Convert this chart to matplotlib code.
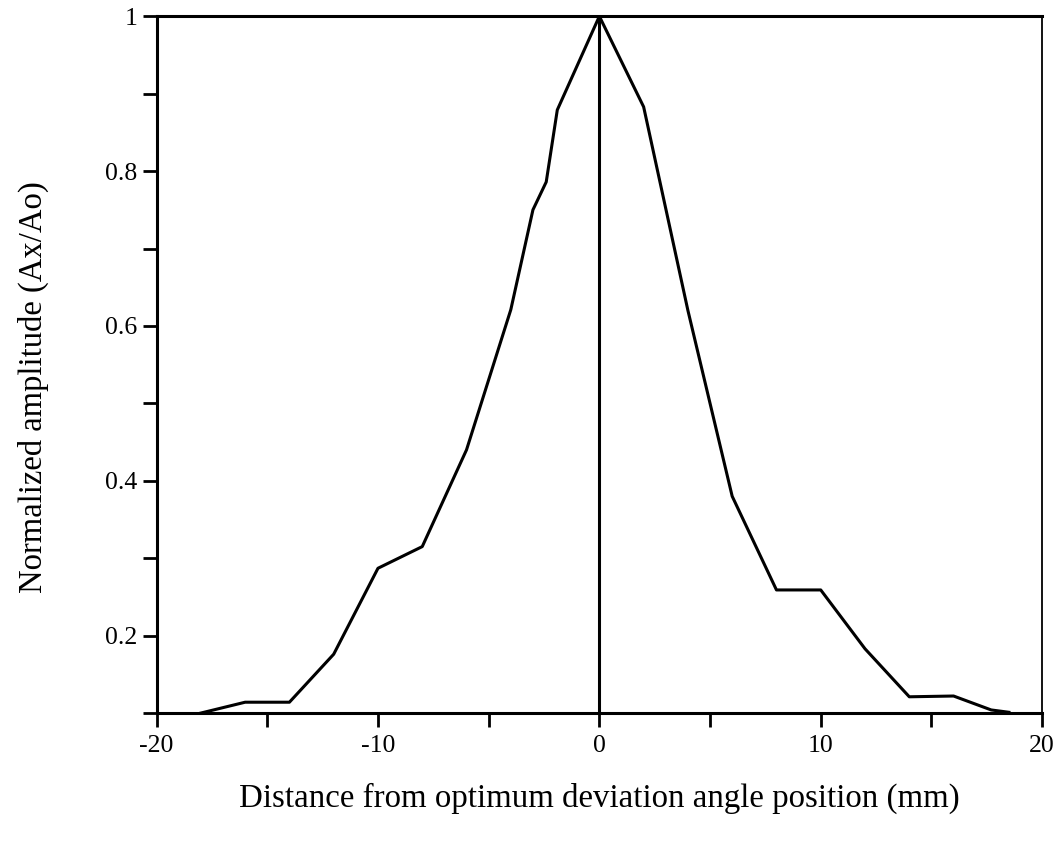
import numpy as np
import matplotlib.pyplot as plt
from matplotlib.ticker import MultipleLocator, FixedLocator

plt.rcParams['font.family'] = ['Liberation Serif', 'DejaVu Serif']

# distance (mm) and normalized amplitude
distance = [-18, -16, -14, -12, -10, -8, -6, -4, -3, -2.4, -1.9, 0,
            2, 4, 6, 8, 10, 12, 14, 16, 17.7, 18.5]
amplitude = [0.1, 0.114, 0.114, 0.176, 0.287, 0.315, 0.44, 0.621, 0.75, 0.786, 0.879, 1.0,
             0.883, 0.62, 0.38, 0.259, 0.259, 0.183, 0.121, 0.122, 0.104, 0.101]

x_major = [-20, -10, 0, 10, 20]
y_major = [0.2, 0.4, 0.6, 0.8, 1.0]
y_labels = ['0.2', '0.4', '0.6', '0.8', '1']

fig = plt.figure(figsize=(10.58, 8.56), dpi=100)
ax = fig.add_axes([0.148, 0.167, 0.837, 0.814])

ax.plot(distance, amplitude, color='black', lw=2.2)
ax.axvline(0, color='black', lw=2.2)

ax.set_xlim(-20, 20)
ax.set_ylim(0.1, 1.0)

ax.xaxis.set_major_locator(FixedLocator(x_major))
ax.xaxis.set_minor_locator(MultipleLocator(5))
ax.yaxis.set_major_locator(FixedLocator(y_major))
ax.yaxis.set_minor_locator(FixedLocator([0.1, 0.3, 0.5, 0.7, 0.9]))
ax.set_xticklabels([str(v) for v in x_major])
ax.set_yticklabels(y_labels)

ax.tick_params(which='both', direction='out', width=2, color='black', labelsize=18.5)
ax.tick_params(which='major', length=10)
ax.tick_params(which='minor', length=10)
ax.tick_params(axis='y', which='major', pad=4)
ax.tick_params(axis='x', which='major', pad=6)

for side in ['left', 'bottom', 'top']:
    ax.spines[side].set_linewidth(2.2)
ax.spines['right'].set_linewidth(1.3)

ax.set_xlabel('Distance from optimum deviation angle position (mm)', fontsize=23.7, labelpad=18)
ax.set_ylabel('Normalized amplitude (Ax/Ao)', fontsize=23.5)
ax.yaxis.set_label_coords(-0.122, 0.468)

plt.savefig('out.png', dpi=100)
